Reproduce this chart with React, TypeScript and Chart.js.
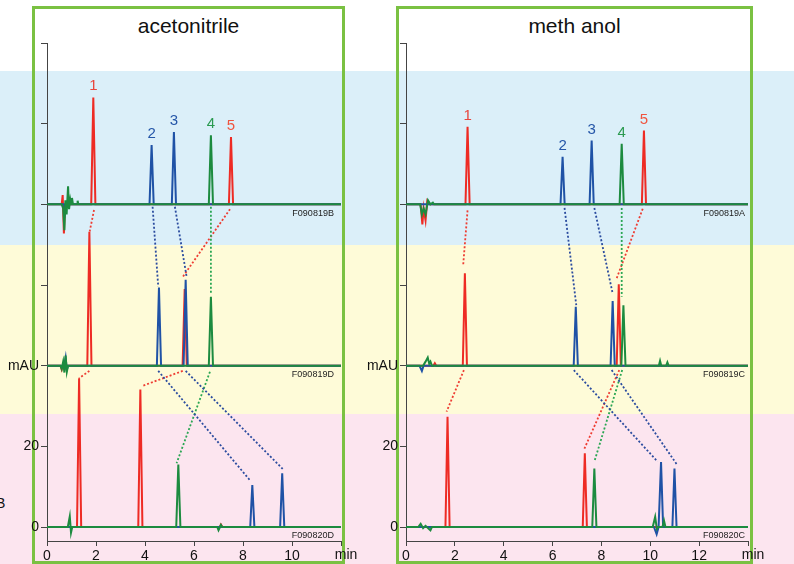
import React, { useEffect, useRef } from 'react';
import { Chart, registerables } from 'chart.js';

Chart.register(...registerables);

type Pt = [number, number];
type Link = [number, number, number, number];

const FONT = '"Liberation Sans", Arial, Helvetica, sans-serif';
const RED = '#ee2b24';
const BLUE = '#1f52a6';
const GREEN = '#1c8b3f';
const RED_DOT = '#ee3d33';
const BLUE_DOT = '#2b4c9f';
const GREEN_DOT = '#2aa653';
const AXIS = '#444';

// ---------- shared axis values ----------
const TRACE_OFFSETS = [80, 40, 0]; // mAU offset of top, middle, bottom chromatograms
const Y_MIN = -3.47;
const Y_MAX = 120;
const Y_TICKS = [0, 20, 40, 60, 80, 100, 120];
const Y_TICK_LABELS = ['0', '20', 'mAU', '', '', '', ''];
const PEAK_HALF_WIDTH = 0.085;

// ---------- acetonitrile ----------
const ACN_X_MAX = 12;
const ACN_X_TICKS = [0, 2, 4, 6, 8, 10, 12];
const ACN_X_TICK_LABELS = ['0', '2', '4', '6', '8', '10', 'min'];
const ACN_CODES = ['F090819B', 'F090819D', 'F090820D'];

// top (F090819B)
const acnTopRed: Pt[] = [[1.89, 26.5], [7.51, 16.7]];
const acnTopBlue: Pt[] = [[4.27, 14.7], [5.18, 17.9]];
const acnTopGreen: Pt[] = [[6.69, 17.1]];
const acnTopRedNoise: Pt[] = [[0.6, 0], [0.64, 2.3], [0.69, -7.2], [0.73, -1], [0.77, 0]];
const acnTopGreenNoise: Pt[] = [[0.6, 0], [0.66, -1], [0.71, -6.4], [0.75, 1], [0.8, -2.5], [0.86, 4.5], [0.9, -1.2], [0.95, 1.2], [0.99, 0], [1.02, 1.6], [1.06, 0], [1.23, 0], [1.25, 0.9], [1.28, 0]];
const acnTopBlueNoise: Pt[] = [[0.7, 0], [0.74, -2], [0.8, 0]];

// middle (F090819D)
const acnMidRed: Pt[] = [[1.73, 33.2], [5.62, 19.0]];
const acnMidBlue: Pt[] = [[4.57, 19.4], [5.66, 21.3]];
const acnMidGreen: Pt[] = [[6.69, 17.1]];
const acnMidRedNoise: Pt[] = [[0.55, 0], [0.6, -1], [0.66, 0]];
const acnMidGreenNoise: Pt[] = [[0.55, 0], [0.6, -0.8], [0.66, 1], [0.71, -1.7], [0.76, 2.5], [0.81, -1.5], [0.86, 0]];
const acnMidBlueNoise: Pt[] = [[0.7, 0], [0.76, 2], [0.81, -1], [0.86, 0]];

// bottom (F090820D)
const acnBotRed: Pt[] = [[1.31, 36.9], [3.81, 34.1]];
const acnBotBlue: Pt[] = [[8.38, 10.4], [9.6, 13.3]];
const acnBotGreen: Pt[] = [[5.36, 15.5]];
const acnBotRedNoise: Pt[] = [[7.05, 0], [7.1, 0.6], [7.16, 0]];
const acnBotGreenNoise: Pt[] = [[0.85, 0], [0.93, 2.6], [0.98, -1.4], [1.03, 0], [6.95, 0], [7.0, -0.8], [7.1, 0.5], [7.15, 0]];
const acnBotBlueNoise: Pt[] = [];

// dotted links [t1, mAU1, t2, mAU2]
const acnRedLinks: Link[] = [[1.92, 78.6, 1.74, 73.2], [1.73, 38.7, 1.31, 36.9], [7.47, 78.8, 5.54, 62.0], [5.54, 38.7, 3.86, 34.9]];
const acnBlueLinks: Link[] = [[4.31, 79.4, 4.54, 59.6], [5.22, 79.4, 5.7, 62.0], [4.54, 38.7, 8.31, 11.4], [5.66, 38.7, 9.62, 14.4]];
const acnGreenLinks: Link[] = [[6.69, 79.4, 6.69, 57.9], [6.65, 38.5, 5.29, 15.8]];

// peak numbers above top trace: [label, time, height]
const acnPeakLabels: [string, number, number][] = [['1', 1.89, 26.5], ['2', 4.27, 14.7], ['3', 5.18, 17.9], ['4', 6.69, 17.1], ['5', 7.51, 16.7]];

// ---------- methanol ----------
const MEOH_X_MAX = 14;
const MEOH_X_TICKS = [0, 2, 4, 6, 8, 10, 12, 14];
const MEOH_X_TICK_LABELS = ['0', '2', '4', '6', '8', '10', '12', 'min'];
const MEOH_CODES = ['F090819A', 'F090819C', 'F090820C'];

// top (F090819A)
const meohTopRed: Pt[] = [[2.52, 19.2], [9.74, 18.3]];
const meohTopBlue: Pt[] = [[6.41, 11.8], [7.6, 15.8]];
const meohTopGreen: Pt[] = [[8.83, 15.0]];
const meohTopRedNoise: Pt[] = [[0.6, 0], [0.67, -5], [0.72, -1], [0.8, -4], [0.87, 0.8], [0.95, 0]];
const meohTopGreenNoise: Pt[] = [[0.58, 0], [0.65, -2.5], [0.72, -1], [0.8, -2.5], [0.9, 1], [1.0, 0], [1.1, 0.4], [1.15, 0]];
const meohTopBlueNoise: Pt[] = [];

// middle (F090819C)
const meohMidRed: Pt[] = [[2.41, 22.9], [8.71, 20.2]];
const meohMidBlue: Pt[] = [[6.95, 14.6], [8.46, 16.0]];
const meohMidGreen: Pt[] = [[8.9, 15.0]];
const meohMidRedNoise: Pt[] = [[1.12, 0], [1.18, 0.6], [1.24, 0]];
const meohMidGreenNoise: Pt[] = [[0.7, 0], [0.8, 1], [0.89, 2], [0.95, 0.5], [1.0, 1], [1.06, 0], [10.35, 0], [10.4, 1.2], [10.45, 0], [10.65, 0], [10.7, 0.8], [10.75, 0]];
const meohMidBlueNoise: Pt[] = [[0.55, 0], [0.65, -1.3], [0.72, 0]];

// bottom (F090820C)
const meohBotRed: Pt[] = [[1.7, 27.3], [7.32, 18.3]];
const meohBotBlue: Pt[] = [[10.44, 16.1], [10.99, 14.5]];
const meohBotGreen: Pt[] = [[7.71, 14.5]];
const meohBotRedNoise: Pt[] = [];
const meohBotGreenNoise: Pt[] = [[0.5, 0], [0.6, 0.8], [0.7, -0.3], [0.8, 0.3], [1.0, -0.8], [1.06, 0], [10.1, 0], [10.2, 2.5], [10.27, -0.5], [10.33, 0], [10.5, 0], [10.56, 1.6], [10.62, 0]];
const meohBotBlueNoise: Pt[] = [[10.15, 0], [10.26, -1.8], [10.34, 0]];

const meohRedLinks: Link[] = [[2.52, 78.5, 2.34, 64.9], [2.37, 38.9, 1.66, 28.6], [9.69, 78.9, 8.62, 61.6], [8.73, 38.9, 7.28, 19.1]];
const meohBlueLinks: Link[] = [[6.49, 79.1, 6.97, 55.0], [7.71, 79.1, 8.46, 57.9], [6.87, 38.9, 10.3, 16.2], [8.42, 38.9, 11.09, 15.5]];
const meohGreenLinks: Link[] = [[8.83, 79.1, 8.83, 57.1], [8.85, 38.9, 7.71, 16.2]];

const meohPeakLabels: [string, number, number][] = [['1', 2.52, 19.2], ['2', 6.41, 11.8], ['3', 7.6, 15.8], ['4', 8.83, 15.0], ['5', 9.74, 18.3]];

const PEAK_LABEL_COLORS = ['#e8453c', '#2556a8', '#2556a8', '#2a9a50', '#f0543e'];

// ---------- helpers ----------
function buildTrace(peaks: Pt[], noise: Pt[], xMax: number, offset: number) {
  const pts: Pt[] = [[0, 0], [xMax, 0], ...noise];
  for (const [t, h] of peaks) {
    pts.push([t - PEAK_HALF_WIDTH, 0], [t, h], [t + PEAK_HALF_WIDTH, 0]);
  }
  pts.sort((a, b) => a[0] - b[0]);
  return pts.map(([x, y]) => ({ x, y: y + offset }));
}

function traceDataset(data: { x: number; y: number }[], color: string) {
  return {
    data,
    borderColor: color,
    borderWidth: 2,
    pointRadius: 0,
    tension: 0,
    fill: false,
  };
}

function linkDatasets(links: Link[], color: string) {
  return links.map(([t1, v1, t2, v2]) => ({
    data: [{ x: t1, y: v1 }, { x: t2, y: v2 }],
    borderColor: color,
    borderWidth: 1.8,
    borderDash: [2, 2],
    pointRadius: 0,
    tension: 0,
    fill: false,
  }));
}

type TraceSet = { red: Pt[]; blue: Pt[]; green: Pt[]; redN: Pt[]; blueN: Pt[]; greenN: Pt[] };

function buildDatasets(traces: TraceSet[], xMax: number, red: Link[], blue: Link[], green: Link[]) {
  const ds: any[] = [];
  traces.forEach((tr, i) => {
    const off = TRACE_OFFSETS[i];
    ds.push(traceDataset(buildTrace(tr.green, tr.greenN, xMax, off), GREEN));
    ds.push(traceDataset(buildTrace(tr.blue, tr.blueN, xMax, off), BLUE));
    ds.push(traceDataset(buildTrace(tr.red, tr.redN, xMax, off), RED));
  });
  ds.push(...linkDatasets(blue, BLUE_DOT), ...linkDatasets(green, GREEN_DOT), ...linkDatasets(red, RED_DOT));
  return ds;
}

const annotPlugin = {
  id: 'annot',
  afterDatasetsDraw(chart: any, _args: any, opts: any) {
    const { ctx, scales, chartArea } = chart;
    const x = scales.x;
    const y = scales.y;
    ctx.save();
    // peak numbers
    ctx.font = `15px ${FONT}`;
    ctx.textAlign = 'center';
    ctx.textBaseline = 'alphabetic';
    (opts.peakLabels as [string, number, number][]).forEach(([txt, t, h], i) => {
      ctx.fillStyle = PEAK_LABEL_COLORS[i];
      ctx.fillText(txt, x.getPixelForValue(t), y.getPixelForValue(h + TRACE_OFFSETS[0]) - 7);
    });
    // file codes
    ctx.font = `9px ${FONT}`;
    ctx.textAlign = 'right';
    ctx.textBaseline = 'middle';
    ctx.fillStyle = '#222';
    (opts.codes as string[]).forEach((c, i) => {
      ctx.fillText(c, x.getPixelForValue(opts.codeTime), y.getPixelForValue(TRACE_OFFSETS[i]) + 9);
    });
    // axis unit at last x tick
    ctx.font = `14px ${FONT}`;
    ctx.textAlign = 'center';
    ctx.textBaseline = 'top';
    ctx.fillStyle = '#111';
    ctx.fillText(opts.unit, x.getPixelForValue(opts.xMax) + 5, chartArea.bottom + 7);
    ctx.restore();
  },
};

type PanelProps = {
  width: number;
  yAxisWidth: number;
  padRight: number;
  xMax: number;
  xTicks: number[];
  xTickLabels: string[];
  datasets: any[];
  peakLabels: [string, number, number][];
  codes: string[];
  codeTime: number;
};

function Panel(p: PanelProps) {
  const ref = useRef<HTMLCanvasElement | null>(null);
  useEffect(() => {
    if (!ref.current) return;
    const chart = new Chart(ref.current, {
      type: 'line',
      data: { datasets: p.datasets },
      plugins: [annotPlugin],
      options: {
        animation: false,
        responsive: false,
        devicePixelRatio: 1,
        events: [],
        layout: { padding: { top: 43, right: p.padRight, left: 0, bottom: 0 } },
        plugins: {
          legend: { display: false },
          tooltip: { enabled: false },
          annot: {
            peakLabels: p.peakLabels,
            codes: p.codes,
            codeTime: p.codeTime,
            xMax: p.xMax,
            unit: p.xTickLabels[p.xTickLabels.length - 1],
          },
        } as any,
        scales: {
          x: {
            type: 'linear',
            min: 0,
            max: p.xMax,
            afterBuildTicks: (s: any) => {
              s.ticks = p.xTicks.map((v) => ({ value: v }));
            },
            afterFit: (s: any) => {
              s.height = 23;
            },
            grid: { drawOnChartArea: false, drawTicks: true, tickLength: 5, color: AXIS, lineWidth: 1 },
            border: { display: true, color: AXIS, width: 1 },
            ticks: {
              color: '#111',
              font: { family: FONT, size: 14 },
              padding: 2,
              maxRotation: 0,
              autoSkip: false,
              callback: (_v: any, i: number) => (i === p.xTicks.length - 1 ? '' : p.xTickLabels[i]),
            },
          },
          y: {
            type: 'linear',
            min: Y_MIN,
            max: Y_MAX,
            afterBuildTicks: (s: any) => {
              s.ticks = Y_TICKS.map((v) => ({ value: v }));
            },
            afterFit: (s: any) => {
              s.width = p.yAxisWidth;
            },
            grid: { drawOnChartArea: false, drawTicks: true, tickLength: 6, color: AXIS, lineWidth: 1 },
            border: { display: true, color: AXIS, width: 1 },
            ticks: {
              color: '#111',
              font: { family: FONT, size: 14 },
              padding: 2,
              autoSkip: false,
              callback: (_v: any, i: number) => Y_TICK_LABELS[i],
            },
          },
        },
      } as any,
    });
    return () => chart.destroy();
  }, []);
  return <canvas ref={ref} width={p.width} height={564} style={{ width: p.width, height: 564, display: 'block' }} />;
}

export default function App() {
  const acnDatasets = buildDatasets(
    [
      { red: acnTopRed, blue: acnTopBlue, green: acnTopGreen, redN: acnTopRedNoise, blueN: acnTopBlueNoise, greenN: acnTopGreenNoise },
      { red: acnMidRed, blue: acnMidBlue, green: acnMidGreen, redN: acnMidRedNoise, blueN: acnMidBlueNoise, greenN: acnMidGreenNoise },
      { red: acnBotRed, blue: acnBotBlue, green: acnBotGreen, redN: acnBotRedNoise, blueN: acnBotBlueNoise, greenN: acnBotGreenNoise },
    ],
    ACN_X_MAX,
    acnRedLinks,
    acnBlueLinks,
    acnGreenLinks
  );
  const meohDatasets = buildDatasets(
    [
      { red: meohTopRed, blue: meohTopBlue, green: meohTopGreen, redN: meohTopRedNoise, blueN: meohTopBlueNoise, greenN: meohTopGreenNoise },
      { red: meohMidRed, blue: meohMidBlue, green: meohMidGreen, redN: meohMidRedNoise, blueN: meohMidBlueNoise, greenN: meohMidGreenNoise },
      { red: meohBotRed, blue: meohBotBlue, green: meohBotGreen, redN: meohBotRedNoise, blueN: meohBotBlueNoise, greenN: meohBotGreenNoise },
    ],
    MEOH_X_MAX,
    meohRedLinks,
    meohBlueLinks,
    meohGreenLinks
  );

  const abs = (s: React.CSSProperties): React.CSSProperties => ({ position: 'absolute', ...s });
  const box: React.CSSProperties = { border: '3px solid #7ac142', boxSizing: 'border-box' };
  const title: React.CSSProperties = { fontFamily: FONT, fontSize: 21, lineHeight: '23px', color: '#111', textAlign: 'center' };

  return (
    <div style={{ position: 'fixed', left: 0, top: 0, width: 794, height: 564, overflow: 'hidden', background: '#fff' }}>
      <div style={abs({ left: 0, top: 71, width: 794, height: 174, background: '#dbeff9' })} />
      <div style={abs({ left: 0, top: 245, width: 794, height: 169, background: '#fefbd8' })} />
      <div style={abs({ left: 0, top: 414, width: 794, height: 150, background: '#fce5ef' })} />
      <div style={abs({ left: 32, top: 6, width: 313, height: 558, ...box })} />
      <div style={abs({ left: 396, top: 6, width: 357, height: 558, ...box })} />
      <div style={abs({ left: 32, top: 14, width: 313, ...title })}>acetonitrile</div>
      <div style={abs({ left: 396, top: 14, width: 357, ...title })}>meth anol</div>
      <div style={abs({ left: -4, top: 495, fontFamily: FONT, fontSize: 14, lineHeight: '16px', color: '#111' })}>B</div>
      <div style={abs({ left: 0, top: 0 })}>
        <Panel
          width={370}
          yAxisWidth={47}
          padRight={29}
          xMax={ACN_X_MAX}
          xTicks={ACN_X_TICKS}
          xTickLabels={ACN_X_TICK_LABELS}
          datasets={acnDatasets}
          peakLabels={acnPeakLabels}
          codes={ACN_CODES}
          codeTime={11.71}
        />
      </div>
      <div style={abs({ left: 350, top: 0 })}>
        <Panel
          width={444}
          yAxisWidth={56}
          padRight={46}
          xMax={MEOH_X_MAX}
          xTicks={MEOH_X_TICKS}
          xTickLabels={MEOH_X_TICK_LABELS}
          datasets={meohDatasets}
          peakLabels={meohPeakLabels}
          codes={MEOH_CODES}
          codeTime={13.88}
        />
      </div>
    </div>
  );
}
